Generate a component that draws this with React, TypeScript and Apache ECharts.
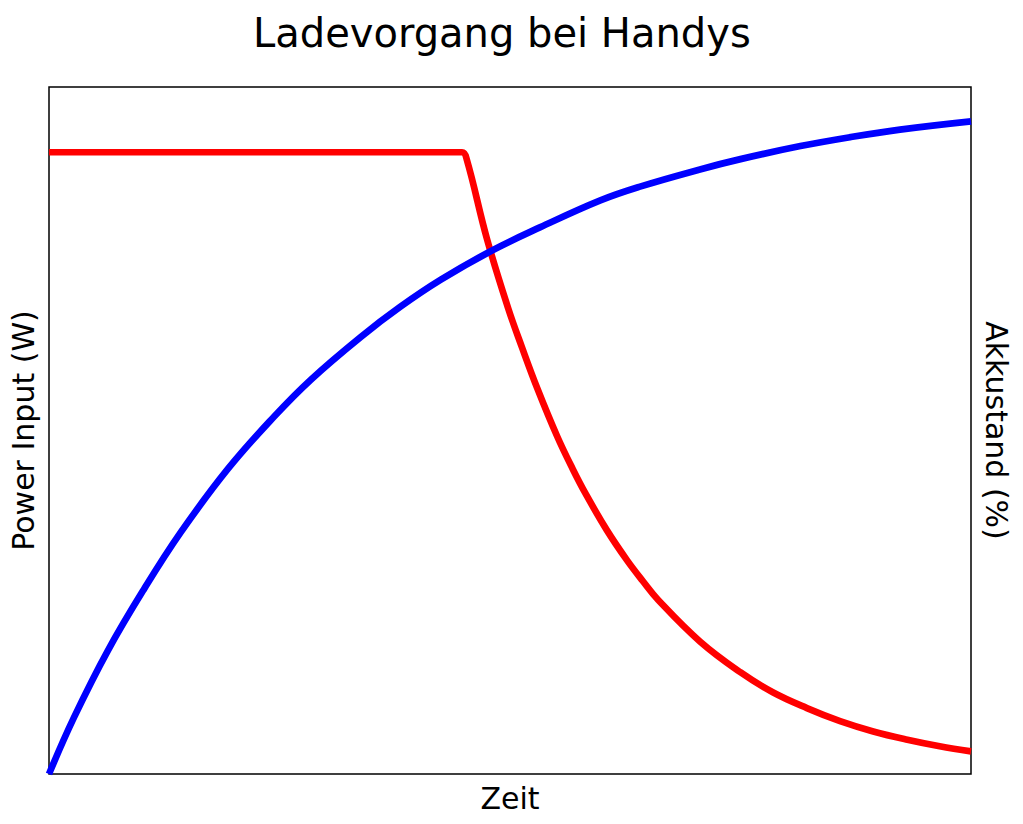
import { useEffect, useRef } from 'react'
import * as echarts from 'echarts'

// Power input curve (red), time in % of the charging period, value in % of the left axis
const powerTime = [0, 44.8, 45.3, 47.5, 49.8, 51.3, 53.0, 55.1, 56.8, 58.2, 60.5, 62.7, 64.4, 66.1, 70.6, 75.0, 78.5, 82.2, 85.8, 89.4, 93.1, 96.6, 100]
const powerInput = [90.5, 90.5, 89.5, 77.9, 67.8, 62.1, 56.0, 49.2, 44.4, 40.8, 35.5, 31.1, 28.1, 25.3, 19.3, 14.8, 11.9, 9.6, 7.7, 6.2, 5.0, 4.05, 3.3]

// Battery level curve (blue)
const akkuTime = [0, 2.7, 6.4, 10.3, 14.3, 19.4, 24.4, 28.4, 33.8, 38.1, 42.5, 47.9, 53.3, 59.8, 64.1, 70.6, 75.0, 81.5, 86.9, 92.3, 100]
const akkuStand = [0, 8.2, 18.0, 26.9, 35.2, 44.4, 52.0, 57.4, 63.6, 68.0, 71.95, 76.1, 79.6, 83.5, 85.5, 88.0, 89.5, 91.4, 92.7, 93.8, 95.0]

const FONT = 'DejaVu Sans'

export default function App() {
  const ref = useRef<HTMLDivElement>(null)

  useEffect(() => {
    document.body.style.margin = '0'
    if (!ref.current) return
    const chart = echarts.init(ref.current, undefined, { renderer: 'svg' })

    const hiddenAxis = {
      type: 'value' as const,
      min: 0,
      max: 100,
      axisLabel: { show: false },
      axisTick: { show: false },
      splitLine: { show: false },
      axisLine: { show: false },
      nameLocation: 'middle' as const,
      nameTextStyle: { color: '#000', fontSize: 30, fontFamily: FONT },
    }

    chart.setOption({
      animation: false,
      backgroundColor: '#fff',
      title: {
        text: 'Ladevorgang bei Handys',
        left: 253,
        top: 13,
        padding: 0,
        textStyle: { color: '#000', fontSize: 40, fontWeight: 'normal', fontFamily: FONT },
      },
      grid: {
        left: 48, right: 52, top: 87, bottom: 50,
        show: true, borderColor: '#000', borderWidth: 1.5, backgroundColor: 'transparent',
      },
      xAxis: { ...hiddenAxis, name: 'Zeit', nameGap: 9 },
      yAxis: [
        { ...hiddenAxis, name: 'Power Input (W)', nameGap: 11, nameRotate: 90 },
        { ...hiddenAxis, position: 'right', name: 'Akkustand (%)', nameGap: 10, nameRotate: -90 },
      ],
      series: [
        {
          type: 'line',
          name: 'Power Input',
          yAxisIndex: 0,
          data: powerTime.map((t, i) => [t, powerInput[i]]),
          showSymbol: false,
          smooth: 0.4,
          lineStyle: { color: '#ff0000', width: 6.7 },
          itemStyle: { color: '#ff0000' },
        },
        {
          type: 'line',
          name: 'Akkustand',
          yAxisIndex: 1,
          data: akkuTime.map((t, i) => [t, akkuStand[i]]),
          showSymbol: false,
          smooth: 0.4,
          lineStyle: { color: '#0000ff', width: 6.7 },
          itemStyle: { color: '#0000ff' },
        },
      ],
    })

    return () => chart.dispose()
  }, [])

  return <div ref={ref} style={{ width: 1023, height: 824 }} />
}
